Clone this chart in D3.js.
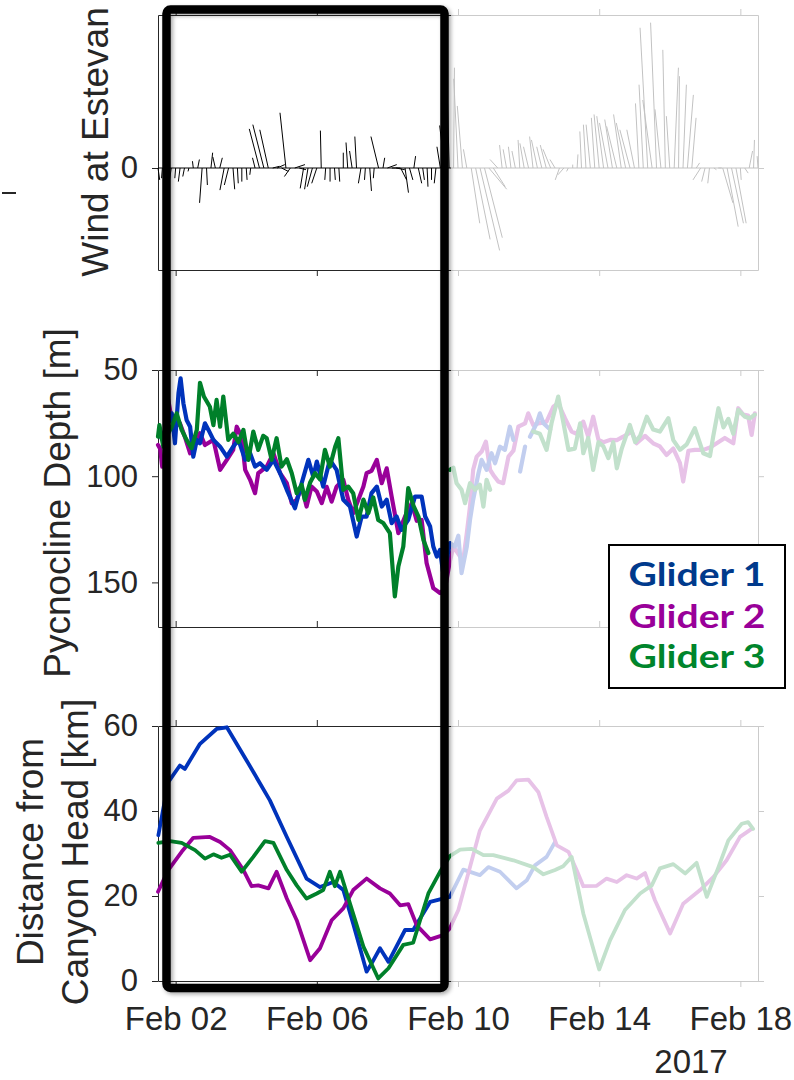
<!DOCTYPE html>
<html>
<head>
<meta charset="utf-8">
<script src="https://cdn.jsdelivr.net/npm/d3@7"></script>
<style>
  body { margin: 0; background: #fff; }
  svg { display: block; }
  .ax text { font-family: "Liberation Sans", Arial, Helvetica, sans-serif; fill: #262626; }
  .ax path, .ax line { stroke: #262626; stroke-width: 1; }
</style>
</head>
<body>
<svg id="fig" width="794" height="1080"></svg>
<script>
// Times are fractional days of February 2017 (UTC): 1.5 = Feb 01 12:00.

// Wind sticks at Estevan Point, sampled every 3 h from Feb 01 12:00 (m/s)
const windStart = 1.5;
const windStep = 0.125;
const windU = [
  0.2, -0.1, -0.2, -0.2, -0.1, -0.2, -0.2, -0.1, -0.1, 0.2,
  -0.3, 0.1, 0.2, -0.3, 0.3, -0.5, -0.5, 0.2, 0.1, 0.0,
  0.1, -0.1, -0.3, -1.2, -1.3, -1.0, 0.8, 0.9, 0.8, -0.7,
  -0.7, 1.2, 0.8, -0.4, -0.4, -0.6, -0.6, -0.1, -0.1, 0.0,
  0.1, 0.1, 0.0, -0.2, -0.3, -0.2, -0.3, -0.1, 0.2, -0.1,
  -0.9, 0.2, 1.1, 1.0, 1.0, 0.7, 0.4, 0.4, 0.2, 0.4,
  0.2, 0.1, 0.0, -0.2, -0.4, -0.6, -0.3, 0.1, -0.5, -0.6,
  -0.4, 1.0, 1.7, 2.3, 2.1, 2.1, 1.4, -0.9, -0.3, -0.4,
  -0.3, -0.4, -0.2, -0.5, -0.6, -0.4, -0.7, -0.6, -0.7, -0.9,
  -0.6, -0.5, -0.7, -0.2, 0.0, 0.1, -0.2, -0.3, -0.5, -0.4,
  -0.6, -0.8, -1.0, -0.9, -1.2, -0.9, -1.1, -1.2, -0.9, -0.4,
  -0.5, -0.9, -1.1, -0.7, -0.7, -0.3, -0.4, 0.5, 0.1, 0.4,
  0.7, 0.5, 0.4, -0.9, -0.4, -0.2, 0.3, 0.4, 1.2, 1.3,
  1.4, 1.2, 0.1, 0.4, 0.4, 0.1, -0.1
];
const windV = [
  -1.4, -1.2, -1.8, -1.4, -1.2, -1.6, -1.0, -0.4, 0.8, 1.0,
  -4.1, -2.0, 1.8, 1.3, 1.2, -2.6, -2.0, -2.5, -1.8, -1.6,
  -1.4, -0.8, 1.2, 4.6, 5.1, 4.5, 0.2, 0.4, -0.4, 6.5,
  -1.0, 0.4, -0.2, -2.4, -2.5, -2.2, -1.8, 4.4, -1.4, -1.6,
  -1.4, -1.6, 1.8, 3.0, 2.0, 3.7, -1.8, -1.4, -2.7, -1.2,
  3.7, 1.2, 0.4, 0.0, -0.2, -1.4, -2.9, -1.4, 1.4, -1.8,
  -1.4, -2.2, -1.4, -1.8, 2.5, 5.0, 11.8, 11.8, 10.5, 7.3,
  2.2, -6.5, -8.4, -9.7, -8.2, -2.5, -2.2, 1.0, 2.7, 2.2,
  2.5, 2.0, 3.3, 2.9, 2.5, 3.7, 3.3, 2.5, 2.7, 2.2,
  1.0, -1.4, -0.8, -0.4, 0.4, 1.6, 4.3, 5.1, 5.1, 5.9,
  6.3, 6.1, 5.3, 5.7, 4.9, 6.3, 5.3, 4.5, 4.5, 7.6,
  9.8, 16.5, 8.0, 17.1, 6.9, 13.9, 6.1, 11.8, 10.8, 9.8,
  8.6, 5.9, 0.6, -1.4, -1.6, -1.8, -0.2, 0.0, -4.1, -6.9,
  -6.5, -6.5, -1.4, -0.6, 2.0, 3.3, 1.4
];

// Pycnocline depth [m]; null marks a gap in the record
const glider1Depth = [
  [1.60, 82], [1.75, 76.7], [1.89, 70.4], [1.98, 84.5], [2.08, 61.0], [2.14, 53.9],
  [2.22, 65.7], [2.31, 73.5], [2.41, 76.7], [2.50, 90.8], [2.60, 82.9], [2.69, 84.5],
  [2.83, 75.1], [2.93, 78.2], [3.07, 82.9], [3.26, 86.1], [3.45, 90.8], [3.63, 86.1],
  [3.78, 82.9], [3.97, 92.3], [4.11, 89.2], [4.25, 95.5], [4.39, 93.9], [4.58, 97.0],
  [4.77, 92.3], [4.96, 98.6], [5.15, 106.4], [5.38, 115.1], [5.57, 103.3], [5.76, 92.3],
  [5.90, 100.2], [6.00, 93.1], [6.18, 104.9], [6.37, 92.3], [6.56, 97.0], [6.75, 111.1],
  [6.94, 114.3], [7.13, 128.4], [7.27, 119.0], [7.41, 119.0], [7.55, 108.0], [7.70, 104.9],
  [7.84, 114.3], [7.98, 111.1], [8.12, 122.1], [8.26, 119.0], [8.40, 125.3], [8.59, 120.6],
  [8.78, 109.6], [8.97, 109.6], [9.07, 119.0], [9.21, 123.7], [9.30, 133.1], [9.40, 137.8],
  [9.49, 134.7], [9.58, 145.6], [9.68, 139.4], [9.77, 131.5], [9.91, 133.1], [10.01, 128.0],
  [10.10, 145.6], [10.25, 133.1], [10.34, 120.6], [10.43, 111.1], [10.58, 98.6], [10.67, 92.3],
  [10.81, 97.0], [10.95, 89.2], [11.05, 93.9], [11.19, 86.1], [11.33, 87.6], [11.47, 76.7],
  [11.57, 82.9], [11.66, null], [11.76, 97.8], [11.90, 86.1], [11.97, null], [12.04, 81.4],
  [12.23, 75.1], [12.32, 70.4], [12.42, 75.1], [12.61, 78.0]
];
const glider2Depth = [
  [1.50, 85.3], [1.56, 87.0], [1.62, 95.5], [1.70, 90.8], [1.79, 64.1], [1.89, 73.5],
  [1.98, 76.7], [2.12, 75.1], [2.26, 81.4], [2.41, 89.2], [2.55, 84.5], [2.69, 79.8],
  [2.83, 85.3], [3.07, 82.9], [3.26, 97.0], [3.45, 92.3], [3.63, 87.6], [3.73, 76.7],
  [3.87, 81.4], [3.97, 97.0], [4.11, 101.7], [4.25, 108.0], [4.34, 98.6], [4.58, 95.5],
  [4.77, 89.2], [4.96, 98.6], [5.15, 103.3], [5.29, 112.7], [5.43, 111.1], [5.57, 104.9],
  [5.71, 114.3], [5.85, 104.9], [6.00, 107.2], [6.14, 112.7], [6.28, 105.0], [6.42, 112.0],
  [6.56, 104.9], [6.75, 101.7], [6.89, 111.1], [7.03, 117.4], [7.18, 111.0], [7.32, 104.9],
  [7.41, 98.6], [7.55, 97.5], [7.70, 92.3], [7.84, 103.3], [7.98, 96.3], [8.12, 109.6],
  [8.31, 126.8], [8.50, 119.0], [8.69, 112.7], [8.83, 121.0], [8.97, 120.6], [9.11, 140.9],
  [9.30, 152.7], [9.49, 155.0], [9.63, 153.0], [9.77, 140.0], [9.87, 133.1], [10.06, 137.8],
  [10.15, 139.4], [10.25, 126.8], [10.34, 114.3], [10.43, 97.0], [10.53, 90.8], [10.67, 88.4],
  [10.79, 83.7], [10.91, 97.0], [11.00, 99.4], [11.14, 102.5], [11.28, 103.3], [11.43, 90.8],
  [11.57, 88.0], [11.71, 76.7], [11.90, 75.1], [11.99, 70.4], [12.13, 75.9], [12.32, 75.0],
  [12.51, 74.3], [12.70, 67.3], [12.84, 65.7], [13.03, 72.7], [13.22, 79.0], [13.36, 80.0],
  [13.55, 74.3], [13.69, 81.4], [13.83, 72.0], [13.98, 82.9], [14.12, 84.0], [14.31, 82.9],
  [14.50, 83.0], [14.68, 81.4], [14.92, 79.0], [15.06, 84.5], [15.30, 81.0], [15.53, 84.5],
  [15.72, 86.0], [15.91, 90.0], [16.10, 87.0], [16.29, 93.9], [16.38, 102.5], [16.53, 88.0],
  [16.71, 87.6], [16.95, 87.6], [17.14, 86.5], [17.33, 84.5], [17.56, 82.0], [17.80, 84.5],
  [17.94, 68.0], [18.08, 71.0], [18.22, 71.5], [18.32, 80.6], [18.41, 70.4]
];
const glider3Depth = [
  [1.50, 81.4], [1.54, 75.9], [1.65, 86.1], [1.75, 81.0], [1.89, 76.7], [2.03, 70.4],
  [2.17, 78.2], [2.31, 82.9], [2.45, 86.8], [2.60, 78.2], [2.69, 56.0], [2.80, 62.5],
  [2.97, 67.3], [3.07, 76.0], [3.16, 64.1], [3.26, 76.7], [3.35, 62.5], [3.49, 82.9],
  [3.63, 80.0], [3.78, 84.0], [3.92, 78.2], [4.06, 92.3], [4.20, 79.0], [4.34, 87.6],
  [4.48, 81.0], [4.58, 82.1], [4.72, 92.3], [4.86, 82.1], [5.00, 95.5], [5.15, 92.0],
  [5.29, 98.6], [5.43, 108.0], [5.57, 104.0], [5.66, 111.1], [5.81, 103.0], [5.95, 98.6],
  [6.09, 101.5], [6.23, 87.6], [6.37, 95.5], [6.52, 86.1], [6.61, 82.1], [6.75, 106.4],
  [6.89, 104.9], [7.03, 108.0], [7.18, 120.6], [7.32, 111.0], [7.46, 117.4], [7.60, 110.0],
  [7.74, 120.6], [7.88, 122.0], [8.07, 126.8], [8.21, 156.6], [8.31, 142.5], [8.45, 133.1],
  [8.59, 105.6], [8.74, 114.0], [8.88, 119.0], [9.02, 130.0], [9.16, 136.2], [9.40, null],
  [9.77, 97.0], [9.87, 96.0], [9.96, 103.3], [10.10, 106.4], [10.20, 112.7], [10.34, 103.3],
  [10.48, 106.4], [10.62, 104.0], [10.72, 114.3], [10.81, 101.7], [10.91, 106.4], [11.50, null],
  [12.13, 79.0], [12.32, 80.0], [12.51, 87.6], [12.65, 75.1], [12.84, 62.5], [12.98, 74.3],
  [13.13, 87.6], [13.31, 87.0], [13.46, 75.1], [13.55, 89.2], [13.69, 82.0], [13.83, 97.0],
  [13.98, 84.0], [14.12, 86.0], [14.26, 91.5], [14.40, 84.0], [14.50, 96.3], [14.64, 87.0],
  [14.87, 75.9], [15.02, 84.0], [15.16, 81.0], [15.35, 72.0], [15.53, 78.0], [15.72, 79.0],
  [15.96, 72.7], [16.10, 83.0], [16.29, 87.6], [16.48, 85.0], [16.71, 77.4], [16.95, 89.2],
  [17.14, 90.5], [17.23, 81.4], [17.38, 68.0], [17.52, 77.0], [17.66, 73.0], [17.80, 80.0],
  [17.94, 68.8], [18.13, 72.0], [18.27, 72.7], [18.41, 71.0]
];

// Distance from canyon head [km]
const glider1Distance = [
  [1.51, 34.3], [1.79, 46.8], [2.12, 50.7], [2.26, 49.9], [2.69, 55.8], [3.16, 59.3],
  [3.45, 59.7], [4.01, 51.9], [4.67, 42.5], [5.15, 33.9], [5.71, 24.1], [6.09, 22.1],
  [6.47, 23.3], [6.75, 21.4], [7.03, 13.5], [7.41, 2.2], [7.55, 4.1], [7.79, 7.7],
  [8.03, 4.5], [8.50, 12.0], [8.73, 12.0], [9.21, 18.6], [9.49, 19.2], [9.77, 19.8],
  [10.15, 26.2], [10.62, 24.9], [10.86, 26.8], [11.19, 25.7], [11.66, 21.8], [11.95, 23.7],
  [12.18, 27.2], [12.51, 29.2], [12.75, 32.7]
];
const glider2Distance = [
  [1.50, 21.0], [1.79, 26.1], [2.17, 30.4], [2.50, 33.7], [2.97, 33.9], [3.26, 32.7],
  [3.54, 30.8], [3.92, 26.1], [4.15, 22.3], [4.34, 22.5], [4.63, 21.8], [4.86, 25.7],
  [5.15, 19.4], [5.43, 14.3], [5.81, 4.9], [6.09, 7.7], [6.42, 14.3], [6.75, 17.1],
  [7.03, 21.4], [7.41, 24.1], [7.79, 21.8], [8.07, 20.6], [8.36, 17.8], [8.59, 18.1],
  [8.83, 13.1], [9.21, 9.8], [9.58, 10.8], [9.77, 12.4], [10.01, 16.7], [10.29, 25.3],
  [10.62, 35.4], [11.10, 42.9], [11.43, 44.8], [11.66, 47.2], [11.99, 47.4], [12.28, 44.4],
  [12.51, 38.6], [12.80, 31.9], [13.13, 30.4], [13.36, 26.1], [13.55, 22.3], [13.93, 22.4],
  [14.21, 24.1], [14.50, 23.3], [14.78, 24.9], [15.06, 24.1], [15.30, 25.4], [15.58, 19.0],
  [16.01, 11.2], [16.38, 18.2], [16.86, 21.4], [17.24, 24.5], [17.61, 28.4], [17.99, 33.9],
  [18.32, 35.8]
];
const glider3Distance = [
  [1.51, 32.5], [1.84, 32.9], [2.17, 32.5], [2.55, 30.8], [2.83, 28.8], [3.07, 29.8],
  [3.30, 29.0], [3.54, 29.7], [3.87, 25.7], [4.20, 29.2], [4.53, 32.9], [4.77, 32.5],
  [5.15, 26.1], [5.43, 22.5], [5.71, 19.4], [6.00, 20.6], [6.18, 21.4], [6.37, 25.7],
  [6.51, 22.3], [6.66, 25.7], [6.94, 18.2], [7.32, 8.1], [7.74, 0.6], [8.03, 3.0],
  [8.45, 8.5], [8.73, 9.0], [9.16, 20.6], [9.49, 25.7], [9.77, 29.4], [10.06, 30.9],
  [10.39, 31.1], [10.72, 29.6], [11.00, 29.6], [11.57, 28.4], [12.13, 26.8], [12.42, 25.1],
  [12.75, 26.1], [12.98, 27.0], [13.22, 29.2], [13.55, 15.9], [14.00, 2.7], [14.31, 9.6],
  [14.73, 16.7], [15.16, 20.6], [15.49, 22.5], [15.72, 26.5], [16.10, 27.5], [16.44, 25.3],
  [16.76, 27.8], [17.05, 19.8], [17.38, 26.8], [17.66, 33.1], [18.04, 37.0], [18.22, 37.4],
  [18.36, 35.8]
];

const gliderNames = ["Glider 1", "Glider 2", "Glider 3"];
const gliderLineColors = ["#0033bb", "#990099", "#00802a"];
const gliderTextColors = ["#003a8c", "#990099", "#00852c"];

const dateTicks = [2, 6, 10, 14, 18];
const windTicks = [0];
const depthTicks = [50, 100, 150];
const distanceTicks = [0, 20, 40, 60];

// ---------------------------------------------------------------
const toDate = d => new Date(Date.UTC(2017, 1, 1) + (d - 1) * 864e5);
const svg = d3.select("#fig");
const FONT = '"Liberation Sans", Arial, Helvetica, sans-serif';

const x = d3.scaleUtc().domain([toDate(1.5), toDate(18.5)]).range([158, 758]);
const yWind = d3.scaleLinear().domain([-12, 18]).range([270, 15]);
const yDepth = d3.scaleLinear().domain([50, 171]).range([370, 627]);
const yDist = d3.scaleLinear().domain([0, 60]).range([981, 726]);

const plot = svg.append("g");

function frame(y, ticks, withDates) {
  const [bottom, top] = y.range();
  const yl = plot.append("g").attr("class", "ax").attr("transform", "translate(158,0)")
    .call(d3.axisLeft(y).tickValues(ticks).tickSize(6).tickSizeOuter(0).tickPadding(14));
  yl.selectAll("text").style("font-size", "31px");
  plot.append("g").attr("class", "ax").attr("transform", "translate(758,0)")
    .call(d3.axisRight(y).tickValues(ticks).tickSize(6).tickSizeOuter(0).tickFormat(""));
  plot.append("g").attr("class", "ax").attr("transform", `translate(0,${top})`)
    .call(d3.axisTop(x).tickValues(dateTicks.map(toDate)).tickSize(6).tickSizeOuter(0).tickFormat(""));
  const xb = plot.append("g").attr("class", "ax").attr("transform", `translate(0,${bottom})`)
    .call(d3.axisBottom(x).tickValues(dateTicks.map(toDate)).tickSize(6).tickSizeOuter(0)
      .tickPadding(20)
      .tickFormat(withDates ? d3.utcFormat("%b %d") : ""));
  xb.selectAll("text").style("font-size", "33px");
}

frame(yWind, windTicks, false);
frame(yDepth, depthTicks, false);
frame(yDist, distanceTicks, true);

// wind stick plot
const windData = windU.map((u, i) => ({ t: windStart + i * windStep, u, v: windV[i] }));
const pxPerUnit = yWind(0) - yWind(1);
plot.append("line")
  .attr("x1", x(toDate(1.5))).attr("x2", x(toDate(18.5)))
  .attr("y1", yWind(0)).attr("y2", yWind(0))
  .attr("stroke", "#000").attr("stroke-width", 1);
plot.append("g").selectAll("line").data(windData).join("line")
  .attr("x1", d => x(toDate(d.t)))
  .attr("y1", yWind(0))
  .attr("x2", d => x(toDate(d.t)) + d.u * pxPerUnit)
  .attr("y2", d => yWind(d.v))
  .attr("stroke", "#000").attr("stroke-width", 1);

// glider lines
function drawSeries(data, y, color, width) {
  const line = d3.line()
    .defined(d => d[1] !== null)
    .x(d => x(toDate(d[0])))
    .y(d => y(d[1]));
  plot.append("path").datum(data)
    .attr("d", line)
    .attr("fill", "none")
    .attr("stroke", color)
    .attr("stroke-width", width)
    .attr("stroke-linejoin", "round")
    .attr("stroke-linecap", "round");
}
[glider2Depth, glider1Depth, glider3Depth].forEach((s, k) =>
  drawSeries(s, yDepth, gliderLineColors[[1, 0, 2][k]], 4.2));
[glider1Distance, glider2Distance, glider3Distance].forEach((s, k) =>
  drawSeries(s, yDist, gliderLineColors[k], 3.8));

// axis titles
function vLabel(lines, cy) {
  lines.forEach(([txt, bx]) => {
    svg.append("text")
      .attr("transform", `translate(${bx},${cy}) rotate(-90)`)
      .attr("text-anchor", "middle")
      .style("font-family", FONT).style("font-size", "37px").style("fill", "#262626")
      .text(txt);
  });
}
vLabel([["Wind at Estevan", 108]], 142);
vLabel([["Pycnocline Depth [m]", 70]], 503);
vLabel([["Distance from", 43], ["Canyon Head [km]", 88]], 852);

svg.append("text")
  .attr("x", 691).attr("y", 1073).attr("text-anchor", "middle")
  .style("font-family", FONT).style("font-size", "33px").style("fill", "#262626")
  .text("2017");

svg.append("line").attr("x1", 2).attr("x2", 16).attr("y1", 193).attr("y2", 193)
  .attr("stroke", "#262626").attr("stroke-width", 2);

// fade everything after the highlighted window
svg.append("rect")
  .attr("x", 451).attr("y", 0).attr("width", 343).attr("height", 994)
  .attr("fill", "#fff").attr("opacity", 0.76);

// highlighted window
const defs = svg.append("defs");
const f = defs.append("filter").attr("id", "shadow").attr("x", "-10%").attr("y", "-10%")
  .attr("width", "120%").attr("height", "120%");
f.append("feDropShadow").attr("dx", 2).attr("dy", 2).attr("stdDeviation", 2)
  .attr("flood-color", "#000").attr("flood-opacity", 0.35);
svg.append("rect")
  .attr("x", x(toDate(1.5)) + 8.5).attr("y", 9.5)
  .attr("width", 278).attr("height", 978.5)
  .attr("rx", 4)
  .attr("fill", "none").attr("stroke", "#000").attr("stroke-width", 8.5)
  .attr("filter", "url(#shadow)");

// legend
const lg = svg.append("g");
lg.append("rect").attr("x", 609).attr("y", 545).attr("width", 176).attr("height", 143)
  .attr("fill", "#fff").attr("stroke", "#000").attr("stroke-width", 2);
const baselines = [586, 628, 668];
gliderNames.forEach((name, i) => {
  lg.append("text")
    .attr("x", 697).attr("y", baselines[i]).attr("text-anchor", "middle")
    .attr("textLength", 137).attr("lengthAdjust", "spacingAndGlyphs")
    .style("font-family", "Lato, 'Open Sans', sans-serif").style("font-weight", 700)
    .style("font-size", "33px").style("fill", gliderTextColors[i])
    .text(name);
});
</script>
</body>
</html>
